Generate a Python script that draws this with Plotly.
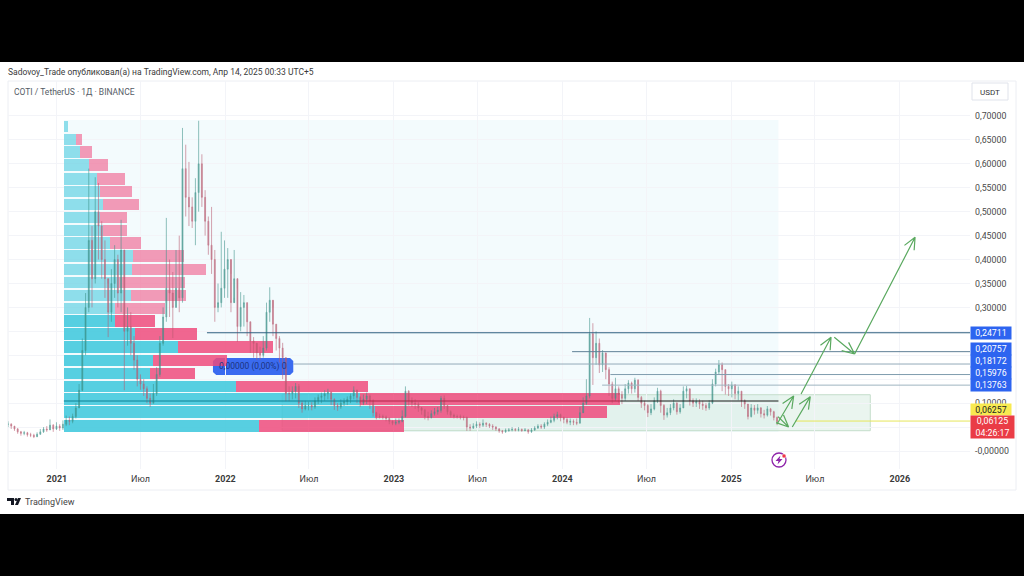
import datetime as dt
import plotly.graph_objects as go

# ---------- price data (weekly candles) ----------
start_date = dt.date(2020, 9, 17)
close_px = [.056,.052,.046,.040,.037,.038,.034,.033,.030,.035,.040,.046,.044,.054,.046,.052,.048,.056,.064,.062,
 .072,.090,.127,.210,.300,.440,.360,.500,.470,.400,.360,.290,.350,.400,.330,.420,.250,.260,.225,.190,
 .150,.140,.130,.110,.100,.120,.160,.225,.280,.340,.330,.300,.340,.320,.590,.530,.510,.480,.540,.600,
 .530,.480,.430,.400,.300,.310,.340,.380,.400,.310,.360,.260,.300,.310,.270,.230,.225,.205,.200,.215,
 .290,.315,.265,.235,.215,.195,.120,.120,.125,.135,.100,.088,.095,.095,.092,.105,.112,.115,.120,.123,
 .108,.095,.092,.100,.103,.108,.115,.127,.112,.100,.108,.115,.105,.080,.072,.072,.071,.068,.062,.058,
 .060,.062,.072,.125,.105,.100,.098,.090,.085,.072,.070,.078,.082,.085,.110,.095,.082,.075,.072,.072,
 .071,.070,.050,.048,.052,.056,.054,.058,.056,.052,.050,.046,.042,.040,.043,.044,.045,.044,.045,.043,
 .044,.040,.044,.048,.052,.050,.056,.060,.064,.072,.076,.070,.066,.060,.062,.060,.058,.080,.100,.115,
 .245,.195,.225,.180,.205,.170,.140,.110,.130,.118,.110,.130,.142,.130,.148,.112,.100,.095,.080,.088,
 .105,.125,.095,.075,.080,.090,.100,.082,.090,.125,.130,.105,.100,.103,.098,.095,.090,.100,.140,.165,
 .180,.170,.135,.130,.138,.120,.125,.105,.098,.072,.090,.085,.090,.078,.075,.088,.082,.070,.061]
high_px = [.062,.058,.052,.048,.042,.042,.040,.038,.036,.039,.046,.050,.052,.066,.056,.060,.056,.064,.074,.072,
 .078,.100,.140,.235,.330,.590,.470,.572,.560,.480,.440,.350,.380,.430,.410,.483,.360,.300,.290,.240,
 .200,.160,.150,.135,.120,.140,.175,.240,.300,.487,.400,.374,.420,.450,.675,.640,.604,.530,.570,.690,
 .620,.545,.490,.510,.420,.350,.458,.440,.424,.370,.420,.340,.332,.326,.310,.270,.238,.225,.218,.240,
 .310,.342,.300,.265,.240,.226,.190,.135,.135,.142,.140,.105,.105,.103,.102,.112,.118,.122,.127,.130,
 .124,.110,.100,.108,.110,.114,.120,.135,.128,.115,.118,.122,.118,.108,.082,.078,.076,.074,.070,.064,
 .068,.068,.085,.135,.127,.112,.108,.102,.092,.088,.082,.085,.090,.092,.115,.116,.095,.085,.078,.076,
 .076,.074,.072,.056,.058,.062,.060,.066,.060,.058,.056,.052,.048,.044,.047,.048,.050,.048,.050,.047,
 .048,.046,.048,.052,.056,.056,.060,.066,.072,.078,.082,.078,.072,.070,.068,.066,.068,.092,.112,.150,
 .278,.267,.250,.235,.211,.195,.175,.145,.153,.135,.125,.140,.148,.145,.153,.150,.115,.105,.098,.098,
 .112,.132,.128,.098,.090,.098,.108,.102,.098,.135,.136,.130,.110,.110,.108,.105,.100,.106,.150,.172,
 .190,.185,.170,.140,.145,.140,.135,.125,.108,.098,.098,.096,.098,.092,.086,.094,.090,.084,.072]
low_px = [.050,.046,.042,.036,.032,.033,.030,.029,.027,.029,.034,.038,.040,.044,.040,.044,.042,.044,.052,.054,
 .058,.068,.090,.125,.200,.290,.300,.350,.400,.360,.320,.238,.270,.320,.300,.290,.127,.220,.200,.170,
 .135,.128,.115,.100,.092,.100,.115,.155,.220,.270,.280,.236,.300,.290,.310,.490,.470,.466,.430,.500,
 .510,.450,.410,.370,.270,.290,.300,.320,.320,.290,.320,.228,.250,.260,.240,.205,.195,.190,.190,.195,
 .210,.270,.240,.210,.185,.150,.104,.104,.108,.110,.090,.080,.085,.085,.085,.088,.098,.100,.105,.108,
 .096,.086,.084,.088,.094,.096,.100,.108,.100,.092,.096,.098,.088,.072,.066,.068,.066,.062,.056,.054,
 .054,.056,.060,.070,.095,.092,.088,.082,.076,.066,.064,.068,.074,.076,.080,.088,.076,.070,.068,.068,
 .066,.064,.042,.042,.046,.048,.048,.050,.050,.048,.044,.042,.038,.036,.038,.040,.041,.041,.041,.040,
 .041,.036,.038,.042,.046,.046,.046,.052,.058,.060,.066,.062,.058,.056,.054,.054,.054,.058,.082,.096,
 .110,.138,.180,.163,.165,.150,.115,.100,.105,.100,.098,.105,.120,.120,.122,.105,.090,.085,.071,.075,
 .085,.100,.080,.065,.070,.075,.085,.076,.078,.090,.110,.095,.092,.092,.088,.086,.084,.086,.098,.135,
 .160,.125,.118,.115,.112,.108,.106,.092,.088,.066,.070,.076,.078,.070,.068,.072,.074,.064,.054]

# ---------- volume profile ----------
row_price = [.678,.651,.624,.597,.569,.542,.515,.488,.461,.434,.407,.379,.352,.325,.298,.271,.244,.217,.189,.162,.135,.108,.081,.053]
vol_up = [4,12,16,25,33,36,39,36,39,46,69,68,55,67,51,51,71,114,89,86,172,296,311,195]
vol_down = [0,6,12,19,28,32,36,27,24,31,51,74,66,55,50,40,62,95,74,45,132,260,232,145]

# ---------- drawn levels, boxes, arrows ----------
levels = [0.24711, 0.20757, 0.18172, 0.15976, 0.13763]
level_from = ["2021-11-22", "2024-01-22", "2022-05-28", "2024-04-14", "2024-03-27"]
level_labels = ["0,24711", "0,20757", "0,18172", "0,15976", "0,13763"]
mid_level = 0.1045
mid_dates = ["2021-01-16", "2022-10-20", "2024-05-05", "2025-04-13"]
last_level = 0.06257
arrow_dates = [("2025-04-10","2025-05-16"),("2025-04-12","2025-05-05"),("2025-05-13","2025-06-21"),
               ("2025-06-01","2025-08-05"),("2025-08-12","2025-09-25"),("2025-09-25","2026-02-03")]
arrow_prices = [(.0564,.1149),(.0717,.0501),(.0501,.1135),(.1191,.2376),(.2376,.2027),(.2027,.4465)]

y_ticks = [0,.05,.10,.15,.20,.25,.30,.35,.40,.45,.50,.55,.60,.65,.70]
y_labels = ["-0,00000","","0,10000","","","","0,30000","0,35000","0,40000","0,45000","0,50000","0,55000","0,60000","0,65000","0,70000"]
x_ticks = ["2021-01-01","2021-07-01","2022-01-01","2022-07-01","2023-01-01","2023-07-01","2024-01-01","2024-07-01","2025-01-01","2025-07-01","2026-01-01"]
x_labels = ["<b>2021</b>","Июл","<b>2022</b>","Июл","<b>2023</b>","Июл","<b>2024</b>","Июл","<b>2025</b>","Июл","<b>2026</b>"]

X_MIN, X_MAX = "2020-09-17", "2026-06-02"
FONT = "Roboto"
W, H = 1024, 576
def fx(x): return x / W
def fy(y): return 1 - y / H
L, R, T, B = 8, 970, 81, 469
PX_PER_DAY = 168.5 / 365.25
PX_PER_PRICE = 478.6

dates = [start_date + dt.timedelta(days=7 * i) for i in range(len(close_px))]
open_px = [close_px[0]] + close_px[:-1]

fig = go.Figure()

row_alpha = [.55 if i <= 14 else .85 for i in range(len(row_price))]
fig.add_bar(y=row_price, x=vol_up, orientation="h", width=.0245, xaxis="x", yaxis="y",
            marker=dict(color=[f"rgba(59,199,220,{a})" for a in row_alpha], line_width=0), showlegend=False)
fig.add_bar(y=row_price, x=vol_down, orientation="h", width=.0245, xaxis="x", yaxis="y",
            marker=dict(color=[f"rgba(238,75,125,{a})" for a in row_alpha], line_width=0), showlegend=False)

fig.add_candlestick(x=dates, open=open_px, high=high_px, low=low_px, close=close_px, xaxis="x2", yaxis="y",
                    increasing=dict(line=dict(color="#3b9188", width=.7), fillcolor="#3b9188"),
                    decreasing=dict(line=dict(color="#b85a70", width=.7), fillcolor="#b85a70"),
                    opacity=.8, showlegend=False)

def level_trace(xs, ys, color, width=1):
    fig.add_scatter(x=xs, y=ys, mode="lines", xaxis="x2", yaxis="y", showlegend=False,
                    line=dict(color=color, width=width), hoverinfo="skip")

level_colors = ["#2f5f7f", "#5f7f96", "#93abb9", "#7f9cae", "#9fb5c0"]
for lv, d0, c in zip(levels, level_from, level_colors):
    level_trace([d0, X_MAX], [lv, lv], c, 1.2 if lv == levels[0] else 1)
for i, c in enumerate(["#0f8296", "#b5254a", "#1a1a1a"]):
    level_trace(mid_dates[i:i + 2], [mid_level, mid_level], c, 1.1)
level_trace(["2025-05-20", X_MAX], [last_level, last_level], "#e6e65a", 1)

# arrows with open heads
def parse(s): return dt.date.fromisoformat(s)
for (d0, d1), (p0, p1) in zip(arrow_dates, arrow_prices):
    a, b = parse(d0), parse(d1)
    dx = (b - a).days * PX_PER_DAY
    dy = (p1 - p0) * PX_PER_PRICE
    n = (dx * dx + dy * dy) ** .5
    ux, uy = dx / n, dy / n
    arm = 13.0
    c, s = 0.91, 0.41  # cos/sin of the head angle
    hx, hy = [], []
    for sg in (1, -1):
        rx = -(ux * c - sg * uy * s) * arm
        ry = -(sg * ux * s + uy * c) * arm
        hx.append(b + dt.timedelta(days=rx / PX_PER_DAY))
        hy.append(p1 + ry / PX_PER_PRICE)
    level_trace([a, b, hx[0], b, hx[1]], [p0, p1, hy[0], p1, hy[1]], "#5aa95f", 1.2)

shapes = [
    # white page
    dict(type="rect", xref="paper", yref="paper", x0=0, x1=1, y0=fy(514), y1=fy(62), fillcolor="white", line_width=0, layer="below"),
    dict(type="rect", xref="paper", yref="paper", x0=fx(8), x1=fx(1016), y0=fy(490), y1=fy(81), fillcolor="white", line=dict(color="#eceef3", width=1), layer="below"),
    # volume-profile background
    dict(type="rect", xref="x2", yref="y", x0="2021-01-16", x1="2025-04-13", y0=.0397, y1=.6916, fillcolor="#f3fbfd", line_width=0, layer="below"),
    # green box
    dict(type="rect", xref="x2", yref="y", x0="2022-05-04", x1="2025-10-29", y0=.0424, y1=.1176, fillcolor="rgba(190,225,205,.32)", line=dict(color="#c5ddcb", width=1), layer="below"),
    # tooltip
    dict(type="path", xref="x2", yref="y", layer="below", fillcolor="#3a6bf0", line_width=0,
         path="M 2021-12-12,0.1943 L 2022-05-21,0.1943 L 2022-05-28,0.1880 L 2022-05-28,0.1651 L 2022-05-21,0.1588 L 2021-12-12,0.1588 L 2021-12-05,0.1651 L 2021-12-05,0.1880 Z"),
    # price-scale button
    dict(type="rect", xref="paper", yref="paper", x0=fx(972), x1=fx(1008), y0=fy(100), y1=fy(83), fillcolor="white", line=dict(color="#e0e3eb", width=1), layer="above"),
    # lightning icon
    dict(type="circle", xref="paper", yref="paper", x0=fx(772), x1=fx(786), y0=fy(467), y1=fy(453), fillcolor="white", line=dict(color="#8e24aa", width=1.3), layer="above"),
    dict(type="path", xref="paper", yref="paper", fillcolor="#8e24aa", line_width=0, layer="above",
         path=f"M {fx(780.5)},{fy(455.5)} L {fx(775.5)},{fy(461)} L {fx(778.5)},{fy(461)} L {fx(777.5)},{fy(464.5)} L {fx(782.5)},{fy(459)} L {fx(779.5)},{fy(459)} Z"),
    dict(type="circle", xref="paper", yref="paper", x0=fx(782), x1=fx(786), y0=fy(458), y1=fy(454), fillcolor="#f23645", line=dict(color="white", width=.5), layer="above"),
    # TradingView logo
    dict(type="path", xref="paper", yref="paper", fillcolor="#131722", line_width=0,
         path=f"M {fx(7)},{fy(498)} L {fx(14)},{fy(498)} L {fx(14)},{fy(505)} L {fx(11)},{fy(505)} L {fx(11)},{fy(501)} L {fx(7)},{fy(501)} Z"),
    dict(type="circle", xref="paper", yref="paper", x0=fx(14.5), x1=fx(17.5), y0=fy(501), y1=fy(498), fillcolor="#131722", line_width=0),
    dict(type="path", xref="paper", yref="paper", fillcolor="#131722", line_width=0,
         path=f"M {fx(21)},{fy(498)} L {fx(18)},{fy(505)} L {fx(15)},{fy(505)} L {fx(18)},{fy(498)} Z"),
]

def note(x, y, text, size=9.5, color="#333333", anchor="left", **kw):
    return dict(x=fx(x), y=fy(y), xref="paper", yref="paper", text=text, showarrow=False, xanchor=anchor, yanchor="middle",
                font=dict(family=FONT, size=size, color=color), borderpad=0, **kw)

def tag(y, text, bg, fg="white", x=970, w=40, h=12, size=8.8):
    return note(x, y, text, size=size, color=fg, bgcolor=bg, width=w, height=h, align="center")

annotations = [
    note(7, 72, "Sadovoy_Trade опубликовал(а) на TradingView.com, Апр 14, 2025 00:33 UTC+5", size=8.5, color="#3a3a3a"),
    note(13, 92, "COTI / TetherUS · 1Д · BINANCE", size=8.5, color="#555b66"),
    note(990, 92, "USDT", size=8, color="#333333", anchor="center"),
    note(24, 502, "TradingView", size=9, color="#444444"),
    note(253, 366.5, "0,00000 (0,00%) 0", size=8.5, color="#1c3480", anchor="center"),
]
for y, label in zip([332.5, 349, 361, 373, 385], level_labels):
    annotations.append(tag(y, label, "#2d64f0"))
annotations.append(tag(409.5, "0,06257", "#f8ea50", fg="#222222", h=11))
annotations.append(tag(426.5, "0,06125<br>04:26:17", "#ea3c46", w=43, h=22))

fig.update_layout(
    width=W, height=H, autosize=False, margin=dict(l=0, r=0, t=0, b=0, pad=0),
    paper_bgcolor="black", plot_bgcolor="rgba(0,0,0,0)", barmode="stack", bargap=0, boxgap=.6,
    shapes=shapes, annotations=annotations, hovermode=False, showlegend=False,
    font=dict(family=FONT),
    xaxis=dict(domain=[fx(L), fx(R)], range=[-56, 906], visible=False, fixedrange=True),
    xaxis2=dict(domain=[fx(L), fx(R)], overlaying="x", anchor="y", side="bottom", type="date", range=[X_MIN, X_MAX],
                tickmode="array", tickvals=x_ticks, ticktext=x_labels, tickfont=dict(family=FONT, size=9, color="#3a3a3a"),
                ticklabelstandoff=3,
                showgrid=True, gridcolor="#f3f4f8", gridwidth=1, zeroline=False, showline=False, ticks="",
                rangeslider=dict(visible=False), fixedrange=True),
    yaxis=dict(domain=[fy(B), fy(T)], range=[(451 - B) / PX_PER_PRICE, (451 - T) / PX_PER_PRICE], side="right", anchor="x",
               tickmode="array", tickvals=y_ticks, ticktext=y_labels, tickfont=dict(family=FONT, size=8.8, color="#4a4a4a"),
               ticklabelstandoff=4,
               showgrid=True, gridcolor="#f3f4f8", gridwidth=1, zeroline=False, showline=False, ticks="", fixedrange=True),
)

fig.write_html("out.html", config=dict(displayModeBar=False),
               post_script="document.body.style.margin='0';document.body.style.background='#000';document.body.style.overflow='hidden';")
